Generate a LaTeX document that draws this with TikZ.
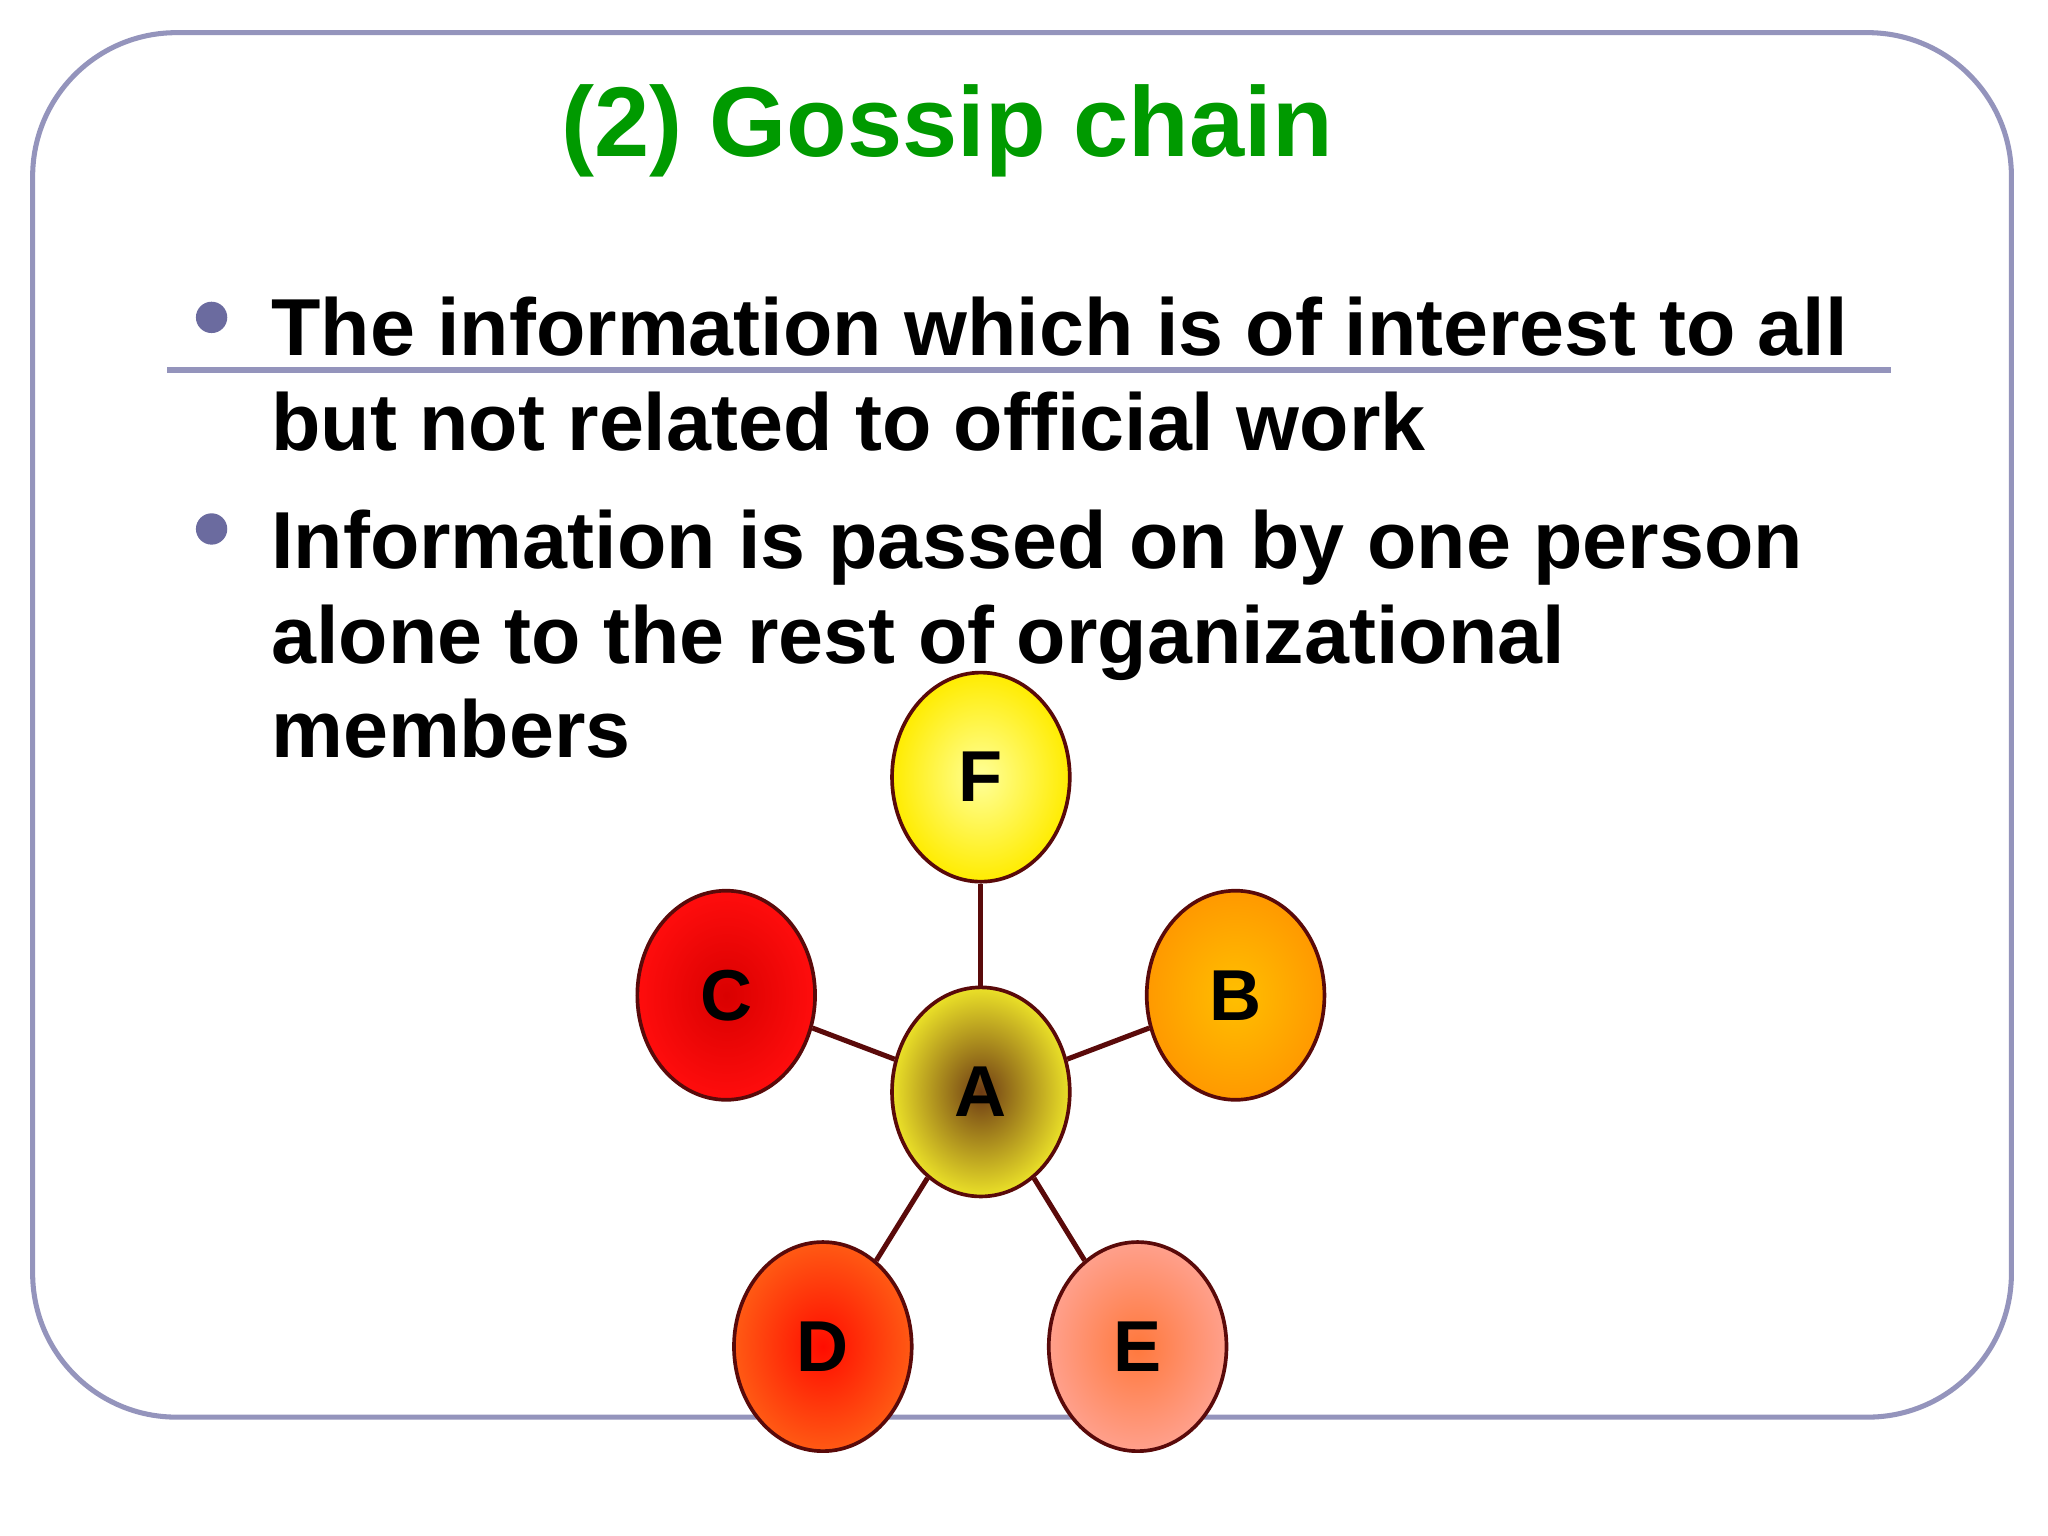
\documentclass[tikz,border=0pt]{standalone}
\usepackage{fontspec}
\setmainfont{Liberation Sans}
\definecolor{frame}{HTML}{9494BC}
\definecolor{dot}{HTML}{6B6B9F}
\definecolor{gr}{HTML}{009A00}
\definecolor{lnk}{HTML}{5A0A0A}
\tikzset{
 blob/.style={ellipse, minimum width=1.36cm, minimum height=1.6cm, draw=lnk, line width=0.8pt, font=\fontsize{15.7}{18}\bfseries\selectfont, inner sep=0pt},
 link/.style={lnk, line width=1.1pt},
 body/.style={anchor=base west, font=\fontsize{17.6}{21}\bfseries\selectfont, inner sep=0pt}
}
\usetikzlibrary{shapes.geometric}
\begin{document}
\begin{tikzpicture}[x=0.01cm,y=-0.01cm]
\useasboundingbox (0,0) rectangle (1568,1176);
\fill[white] (0,0) rectangle (1568,1176);
\draw[frame, line width=1.1pt, rounded corners=1.1cm] (25,25) rectangle (1540,1085);
\node (title) at (725,100) {\fontsize{21.6}{26}\bfseries\selectfont\color{gr}(2) Gossip chain};
\draw[frame, line width=1.3pt] (128,283) -- (1448,283);
\fill[dot] (162,243) circle (12);
\fill[dot] (162,405) circle (12);
\node[body] (l1) at (207,272) {The information which is of interest to all};
\node[body] (l2) at (207,345) {but not related to official work};
\node[body] (l3) at (207,435) {Information is passed on by one person};
\node[body] (l4) at (207,508) {alone to the rest of organizational};
\node[body] (l5) at (207,580) {members};
\node[blob, inner color=yellow!40!white, outer color=yellow!85!orange] (F) at (751,595) {F};
\node[blob, inner color=red!85!black, outer color=red!95!white] (C) at (556,762) {C};
\node[blob, inner color=orange!50!yellow, outer color=orange!80!yellow] (B) at (946,762) {B};
\node[blob, inner color={rgb,255:red,110;green,60;blue,20}, outer color={rgb,255:red,235;green,225;blue,40}] (A) at (751,836) {A};
\node[blob, inner color=red!90!orange, outer color={rgb,255:red,255;green,90;blue,20}] (D) at (630,1031) {D};
\node[blob, inner color={rgb,255:red,255;green,120;blue,60}, outer color={rgb,255:red,255;green,160;blue,140}] (E) at (871,1031) {E};
\foreach \n in {F,C,B,D,E} \draw[link] (A) -- (\n);
\end{tikzpicture}
\end{document}
